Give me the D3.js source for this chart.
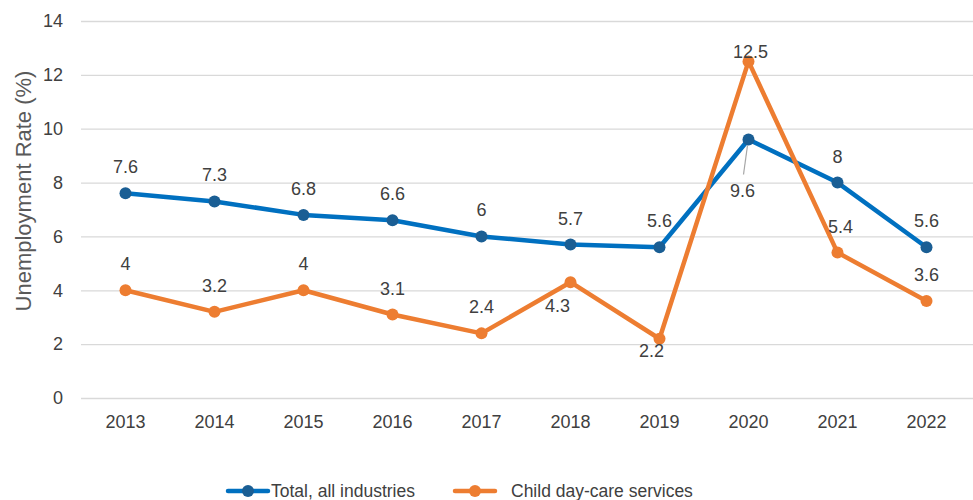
<!DOCTYPE html>
<html><head><meta charset="utf-8">
<script src="https://cdn.jsdelivr.net/npm/d3@7/dist/d3.min.js"></script>
<style>body{margin:0;background:#fff}svg{display:block;font-family:"Liberation Sans",Arial,sans-serif}</style>
</head><body><svg id="c" width="973" height="500"></svg>
<script>
const years = ["2013","2014","2015","2016","2017","2018","2019","2020","2021","2022"];
const totalAll = [7.6,7.3,6.8,6.6,6,5.7,5.6,9.6,8,5.6];
const childCare = [4,3.2,4,3.1,2.4,4.3,2.2,12.5,5.4,3.6];
const yTicks = [0,2,4,6,8,10,12,14];
const seriesNames = ["Total, all industries","Child day-care services"];

// label offsets (style/position config)
const totalLabelOff = [[0,-20],[0,-20],[0,-20],[0,-20],[0,-20],[0,-20],[0,-20],[-6,58],[0,-20],[0,-20]];
const childLabelOff = [[0,-20],[0,-20],[0,-20],[0,-20],[0,-20],[-13,30],[-8,18],[2,-3.5],[3,-20],[0,-20]];

const svg = d3.select("#c");
const x = d3.scaleBand().domain(years).range([81,971]);
const y = d3.scaleLinear().domain([0,14]).range([398,21]);

const gy = svg.append("g").attr("transform","translate(81,0)")
  .call(d3.axisLeft(y).tickValues(yTicks).tickSize(-892).tickPadding(18).tickFormat(d3.format("d")));
gy.select(".domain").remove();
gy.selectAll(".tick line").attr("stroke","#d9d9d9").attr("stroke-width",1.3);
gy.selectAll(".tick text").attr("fill","#404040").style("font-size","18px");

const gx = svg.append("g").attr("transform","translate(0,398)")
  .call(d3.axisBottom(x).tickSize(0).tickPadding(17));
gx.select(".domain").remove();
gx.selectAll(".tick text").attr("fill","#404040").style("font-size","18px");

svg.append("text").attr("transform","translate(31,191) rotate(-90)").attr("text-anchor","middle")
  .attr("fill","#595959").style("font-size","22px").text("Unemployment Rate (%)");

const cx = d => x(d) + x.bandwidth()/2;
const line = d3.line().x((d,i)=>cx(years[i])).y(d=>y(d));

const series = [
  {vals: totalAll, line:"#0070c0", marker:"#1a5e94", off: totalLabelOff},
  {vals: childCare, line:"#ed7d31", marker:"#ed7d31", off: childLabelOff}
];

series.forEach(s=>{
  svg.append("path").datum(s.vals).attr("d",line).attr("fill","none")
    .attr("stroke",s.line).attr("stroke-width",4.5).attr("stroke-linejoin","round");
});
// leader line for 9.6
svg.append("line").attr("x1",cx("2020")-1).attr("y1",y(9.6)+6).attr("x2",cx("2020")-5).attr("y2",y(9.6)+35)
  .attr("stroke","#a6a6a6").attr("stroke-width",1.2);
series.forEach(s=>{
  svg.append("g").selectAll("circle").data(s.vals).join("circle")
    .attr("cx",(d,i)=>cx(years[i])).attr("cy",d=>y(d)).attr("r",6).attr("fill",s.marker);
});
series.forEach(s=>{
  svg.append("g").selectAll("text").data(s.vals).join("text")
    .attr("x",(d,i)=>cx(years[i])+s.off[i][0]).attr("y",(d,i)=>y(d)+s.off[i][1])
    .attr("text-anchor","middle").attr("fill","#404040").style("font-size","18px").text(d=>d);
});

// legend
const leg = [{x:228, c:"#0070c0", m:"#1a5e94", tx:271},{x:455, c:"#ed7d31", m:"#ed7d31", tx:511}];
leg.forEach((l,i)=>{
  svg.append("line").attr("x1",l.x).attr("x2",l.x+40).attr("y1",491).attr("y2",491)
    .attr("stroke",l.c).attr("stroke-width",4.5).attr("stroke-linecap","round");
  svg.append("circle").attr("cx",l.x+20).attr("cy",491).attr("r",6).attr("fill",l.m);
  svg.append("text").attr("x",l.tx).attr("y",497).attr("fill","#404040").style("font-size","17.5px").text(seriesNames[i]);
});
</script></body></html>
